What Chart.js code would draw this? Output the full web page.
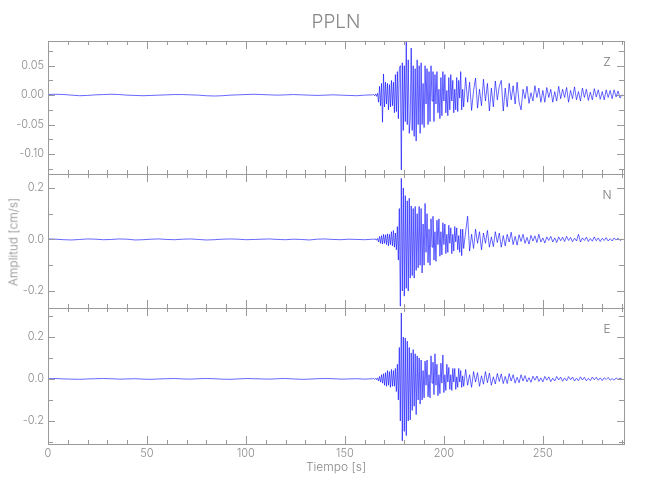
<!DOCTYPE html>
<html>
<head>
<meta charset="utf-8">
<script src="https://cdn.jsdelivr.net/npm/chart.js@4"></script>
<style>
  body { margin: 0; background: #fff; }
  #wrap { position: relative; width: 650px; height: 500px; background: #fff;
          font-family: Inter, "DejaVu Sans", sans-serif; font-weight: 300; color: #888; }
  #wrap canvas { position: absolute; left: 0; top: 0; }
  .lbl { position: absolute; white-space: nowrap; }
</style>
</head>
<body>
<div id="wrap">
  <canvas id="cZ" width="650" height="500"></canvas>
  <canvas id="cN" width="650" height="500"></canvas>
  <canvas id="cE" width="650" height="500"></canvas>
  <div class="lbl" style="left:0;width:672px;text-align:center;top:10px;font-size:19px;">PPLN</div>
  <div class="lbl" style="left:13px;top:242px;font-size:12px;transform:translate(-50%,-50%) rotate(-90deg);">Amplitud [cm/s]</div>
  <div class="lbl" style="left:0;width:672px;text-align:center;top:459px;font-size:12px;">Tiempo [s]</div>
</div>
<script>
// sampling of the hand-read traces
const tPre0 = 0, dtPre = 4;      // 0..164 s
const tA0 = 164.5, dtA = 0.5;    // 164.5..210 s
const tB0 = 211, dtB = 1;        // 211..290 s
const xMax = 291;

// Z component
const zPre = [0.001,0.0015,0.001,0,-0.001,-0.0005,0.0005,0.001,0.0015,0.001,0,-0.0005,-0.001,-0.0005,0,0.0005,
  0.001,0.001,0.0005,0,-0.001,-0.0015,-0.001,0,0.0005,0.001,0.0015,0.001,0.0005,0,0.0005,0.001,0.0005,0,-0.0005,
  0,0.0005,0,-0.0005,-0.001,0,0.0005];
const zA = [0.001,-0.001,0.002,-0.002,0.003,
  -0.012,0.015,-0.018,0.02, -0.046,0.036,-0.02,0.022, -0.015,0.02,-0.025,0.018, -0.02,0.025,-0.018,0.022,
  -0.03,0.035,-0.028,0.04, -0.04,0.045,0.05,-0.127, 0.055,-0.06,0.05,-0.045, 0.092,-0.05,0.06,-0.065,
  -0.04,0.08,-0.06,0.05, -0.07,0.045,-0.078,0.06, -0.05,0.05,-0.065,0.055, -0.05,0.02,-0.055,0.05,
  -0.015,0.045,-0.05,0.04, -0.045,0.05,-0.01,0.04, -0.045,0.035,-0.015,0.04, -0.03,0.01,-0.04,0.03,
  -0.035,0.04,-0.01,0.035, -0.03,0.008,-0.035,0.03, -0.025,0.035,-0.01,0.025, -0.03,0.01,-0.025,0.03,
  -0.028,0.025,-0.005,0.04, -0.025,0.01,-0.02];
const zB = [0.03,-0.012,0.022,-0.026,0.008,0.029,-0.022,0.01,-0.018,0.027,
  -0.01,0.02,-0.027,0.012,-0.02,0.024,-0.008,0.015,0.025,-0.027,
  0.012,-0.02,0.02,-0.008,0.016,-0.015,0.022,-0.012,-0.025,0.01,
  -0.006,0.015,-0.014,0.004,-0.01,0.016,-0.004,0.012,-0.012,0.008,
  -0.012,0.013,-0.004,0.01,-0.012,0.006,-0.01,0.015,-0.006,0.01,
  -0.004,0.013,-0.012,0.008,-0.006,0.014,-0.008,0.006,-0.01,0.012,
  -0.004,0.01,-0.009,0.005,-0.008,0.011,-0.003,0.009,-0.007,0.006,
  -0.008,0.009,-0.004,0.008,-0.006,0.009,-0.003,0.007,-0.005,0.001];

// N component
const nPre = [0.002,0.001,-0.001,-0.002,0,0.002,0.001,-0.001,0,0.002,0.001,-0.002,-0.001,0.001,0.002,0,
  -0.001,0.001,0.002,0,-0.002,-0.001,0.001,0.002,0.001,-0.001,0,0.001,0.002,0,-0.001,0.001,0,-0.002,
  0.001,0.002,0,-0.001,0.001,0,-0.001,0.001];
const nA = [0.002,-0.002,0.003,-0.003,0.004,
  -0.01,0.012,-0.015,0.015, -0.018,0.02,-0.015,0.018, -0.02,0.022,-0.025,0.02, -0.02,0.03,-0.025,0.035,
  -0.03,0.025,-0.04,0.05, -0.08,0.12,-0.259,0.237, -0.2,0.2,-0.22,0.17, -0.19,0.15,-0.2,0.16,
  -0.15,0.13,-0.14,0.12, -0.15,0.128,-0.12,0.1, -0.11,0.128,-0.1,0.12, -0.13,0.06,-0.1,0.14,
  -0.05,0.1,-0.09,0.04, -0.1,0.08,-0.03,0.09, -0.08,0.03,-0.085,0.075, -0.02,0.08,-0.065,0.03,
  -0.06,0.065,-0.02,0.06, -0.055,0.02,-0.05,0.055, -0.015,0.045,-0.055,0.02, -0.045,0.05,-0.01,0.045,
  -0.04,0.015,-0.05,0.04, -0.063,0.04,-0.035];
const nB = [0.03,0.09,-0.045,0.02,-0.035,0.04,-0.015,0.03,-0.04,0.025,
  -0.015,0.035,-0.03,0.01,-0.028,0.03,-0.012,0.025,-0.03,0.015,
  -0.025,0.02,-0.01,0.028,-0.02,0.012,-0.022,0.018,-0.008,0.02,
  -0.015,0.008,-0.018,0.016,-0.006,0.014,-0.012,0.02,-0.01,0.006,
  -0.014,0.01,-0.004,0.012,-0.01,0.006,-0.012,0.01,-0.005,0.009,
  -0.008,0.012,-0.004,0.008,-0.009,0.005,-0.006,0.02,-0.01,0.006,
  -0.004,0.009,-0.008,0.004,-0.007,0.01,-0.005,0.006,-0.008,0.005,
  -0.004,0.007,-0.006,0.003,-0.006,0.006,-0.002,0.005,-0.004,0.002];

// E component
const ePre = [0.001,0.002,0,-0.001,-0.002,0,0.001,0.002,0.001,-0.001,0,0.001,-0.001,-0.002,0,0.001,
  0.002,0,-0.001,0.001,0.002,0.001,-0.001,-0.002,0,0.002,0.001,0,-0.001,0.001,0.002,0,-0.002,-0.001,
  0.001,0.002,0.001,-0.001,0,0.001,-0.001,0.001];
const eA = [0.002,-0.002,0.003,-0.004,0.005,
  -0.01,0.012,-0.015,0.02, -0.02,0.025,-0.03,0.03, -0.035,0.04,-0.03,0.035, -0.04,0.045,-0.035,0.04,
  -0.035,0.05,-0.06,0.07, -0.1,0.15,-0.2,0.314, -0.295,0.2,-0.25,0.195, -0.27,0.18,-0.2,0.15,
  -0.195,0.124,-0.15,0.14, -0.13,0.12,-0.17,0.11, -0.1,0.1,-0.12,0.09, -0.1,0.04,-0.09,0.085,
  -0.03,0.09,-0.085,0.02, -0.09,0.11,-0.02,0.08, -0.075,0.12,-0.03,0.07, -0.08,0.02,-0.07,0.075,
  -0.02,0.114,-0.065,0.02, -0.055,0.07,-0.015,0.055, -0.05,0.02,-0.055,0.05, -0.015,0.05,-0.05,0.01,
  -0.04,0.05,-0.015,0.04, -0.04,0.015,-0.035];
const eB = [0.045,-0.03,0.02,-0.04,0.035,-0.015,0.03,-0.035,0.015,-0.025,
  0.035,-0.018,0.028,-0.03,0.01,-0.024,0.026,-0.012,0.024,-0.022,
  0.012,-0.022,0.025,-0.01,0.02,-0.02,0.008,-0.018,0.02,-0.01,
  0.016,-0.014,0.006,-0.016,0.013,-0.006,0.014,-0.012,0.005,-0.014,
  0.012,-0.006,0.01,-0.013,0.004,-0.01,0.012,-0.005,0.009,-0.011,
  0.005,-0.009,0.011,-0.004,0.009,-0.01,0.004,-0.009,0.01,-0.005,
  0.008,-0.009,0.003,-0.008,0.009,-0.004,0.008,-0.006,0.005,-0.008,
  0.006,-0.003,0.007,-0.006,0.002,-0.006,0.005,-0.003,0.004,-0.002];

// axis ranges and tick marks per panel
const zRange = [-0.134, 0.092], zMajor = [0.05, 0, -0.05, -0.10], zMinor = [0.075, 0.025, -0.025, -0.075, -0.125];
const nRange = [-0.266, 0.254], nMajor = [0.2, 0, -0.2], nMinor = [0.1, -0.1];
const eRange = [-0.31, 0.338], eMajor = [0.2, 0, -0.2], eMinor = [0.3, 0.1, -0.1, -0.3];

const GRAY = '#8a8a8a';
const FONT = 'Inter, "DejaVu Sans", sans-serif';

function serie(pre, a, b) {
  const pts = [];
  pre.forEach((v, i) => pts.push({ x: tPre0 + i * dtPre, y: v }));
  a.forEach((v, i) => pts.push({ x: tA0 + i * dtA, y: v }));
  b.forEach((v, i) => pts.push({ x: tB0 + i * dtB, y: v }));
  return pts;
}

function marco(canal, yMajor, yMinor) {
  return {
    id: 'marco',
    afterDraw(chart) {
      const { ctx, chartArea: a, scales: { x, y } } = chart;
      ctx.save();
      ctx.strokeStyle = '#9a9a9a';
      ctx.lineWidth = 1;
      ctx.strokeRect(Math.round(a.left) + 0.5, Math.round(a.top) + 0.5,
        Math.round(a.right - a.left), Math.round(a.bottom - a.top));
      ctx.beginPath();
      for (let v = 10; v < xMax; v += 10) {
        const px = Math.round(x.getPixelForValue(v)) + 0.5;
        const len = v % 50 === 0 ? 8 : 4;
        ctx.moveTo(px, a.bottom); ctx.lineTo(px, a.bottom - len);
        ctx.moveTo(px, a.top); ctx.lineTo(px, a.top + len);
      }
      yMajor.concat(yMinor).forEach(v => {
        const py = Math.round(y.getPixelForValue(v)) + 0.5;
        const len = yMajor.includes(v) ? 7 : 5;
        ctx.moveTo(a.left, py); ctx.lineTo(a.left + len, py);
        ctx.moveTo(a.right, py); ctx.lineTo(a.right - len, py);
      });
      ctx.stroke();
      ctx.fillStyle = '#777';
      ctx.font = '300 12px ' + FONT;
      ctx.textAlign = 'center';
      ctx.textBaseline = 'middle';
      ctx.fillText(canal, a.right - 17, a.top + 21);
      ctx.restore();
    }
  };
}

function panel(id, canal, pts, range, step, dec, yMajor, yMinor, top, bottom, showX) {
  new Chart(document.getElementById(id), {
    type: 'line',
    data: { datasets: [{ data: pts, borderColor: '#0000ff', borderWidth: 0.6, pointRadius: 0, tension: 0 }] },
    options: {
      responsive: false,
      animation: false,
      devicePixelRatio: 1,
      layout: { padding: { left: 0, right: 26, top: top, bottom: bottom } },
      plugins: { legend: { display: false }, tooltip: { enabled: false } },
      scales: {
        x: {
          type: 'linear', min: 0, max: xMax, display: showX,
          grid: { display: false, drawTicks: false }, border: { display: false },
          ticks: { stepSize: 50, padding: 3, color: GRAY, font: { family: FONT, size: 11, weight: 300 }, includeBounds: false },
          afterFit(s) { s.height = showX ? 40 : 0; }
        },
        y: {
          min: range[0], max: range[1],
          grid: { display: false, drawTicks: false }, border: { display: false },
          ticks: { stepSize: step, padding: 4, color: GRAY, font: { family: FONT, size: 11, weight: 300 }, includeBounds: false,
                   callback: v => v.toFixed(dec) },
          afterFit(s) { s.width = 48; }
        }
      }
    },
    plugins: [marco(canal, yMajor, yMinor)]
  });
}

panel('cZ', 'Z', serie(zPre, zA, zB), zRange, 0.05, 2, zMajor, zMinor, 41, 326, false);
panel('cN', 'N', serie(nPre, nA, nB), nRange, 0.2, 1, nMajor, nMinor, 174, 192, false);
panel('cE', 'E', serie(ePre, eA, eB), eRange, 0.2, 1, eMajor, eMinor, 308, 16, true);
</script>
</body>
</html>
